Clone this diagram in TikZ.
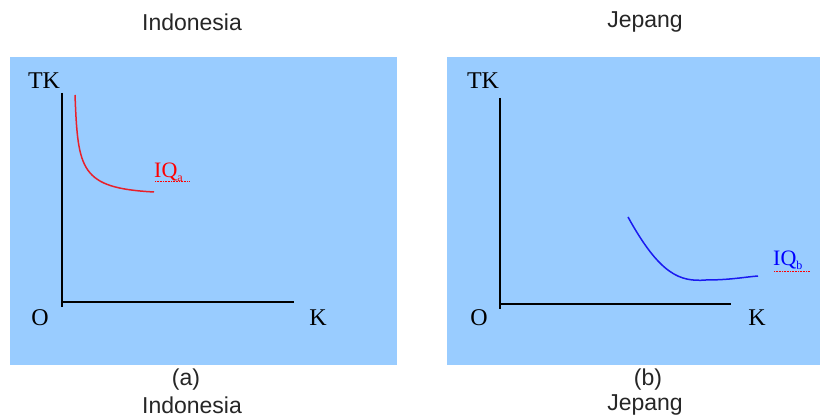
\documentclass[tikz,border=0pt]{standalone}
\usepackage{fontspec}
\setmainfont{Liberation Sans}
\newfontfamily\axfont{Liberation Serif}
\definecolor{panelblue}{HTML}{99CCFF}
\definecolor{curvered}{HTML}{E8202A}
\definecolor{curveblue}{HTML}{1A1AF0}
\begin{document}
\begin{tikzpicture}[x=1pt,y=-1pt,
  panel/.style={fill=panelblue,draw=none},
  axis/.style={draw=black,line width=1.6pt},
  axlabel/.style={font=\axfont\fontsize{24}{24}\selectfont,inner sep=0pt},
  caption/.style={font=\fontsize{23}{23}\selectfont,inner sep=0pt,text=black!85},
  iq/.style={font=\axfont\fontsize{22}{22}\selectfont,inner sep=0pt}]
\useasboundingbox (0,0) rectangle (820,419);
\fill[white] (0,0) rectangle (820,419);
% panels
\path[panel] (10,57) rectangle (397,365);
\path[panel] (447,57) rectangle (820,365);
% titles
\node[caption] (ta) at (192,22) {Indonesia};
\node[caption] (tb) at (645,22) {Jepang};
\node[caption] (ca) at (186,380) {(a)};
\node[caption] (na) at (192,405) {Indonesia};
\node[caption] (cb) at (648,380) {(b)};
\node[caption] (nb) at (645,405) {Jepang};
% left axes
\coordinate (lay) at (62,93);
\coordinate (lax) at (294,302);
\draw[axis] (lay) -- (62,307);
\draw[axis] (62,302) -- (lax);
\node[axlabel] (ltk) at (44,81) {TK};
\node[axlabel] (lo) at (40,318) {O};
\node[axlabel] (lk) at (318,318) {K};
% left curve
\coordinate (ra1) at (75,95);
\coordinate (ra2) at (154,192);
\draw[curvered,line width=1.5pt] (ra1) .. controls (78,170) and (80,188) .. (ra2);
\node[iq,text=red,anchor=west] (iqa) at (154,172) {IQ\raisebox{-0.4ex}{\fontsize{12}{12}\selectfont a}};
\draw[red,densely dotted,line width=0.6pt] (155,181) -- (190,181);
% right axes
\coordinate (ray) at (500,98);
\coordinate (rax) at (731,304);
\draw[axis] (ray) -- (500,309);
\draw[axis] (500,304) -- (rax);
\node[axlabel] (rtk) at (483,81) {TK};
\node[axlabel] (ro) at (479,318) {O};
\node[axlabel] (rk) at (757,318) {K};
% right curve
\coordinate (rb1) at (628,217);
\coordinate (rb2) at (758,276);
\draw[curveblue,line width=1.5pt] (rb1) .. controls (660,275) and (680,282) .. (706,280) .. controls (730,280) and (745,277) .. (rb2);
\node[iq,text=blue,anchor=west] (iqb) at (773,260) {IQ\raisebox{-0.4ex}{\fontsize{12}{12}\selectfont b}};
\draw[red,densely dotted,line width=0.6pt] (774,271) -- (810,271);
\end{tikzpicture}
\end{document}
